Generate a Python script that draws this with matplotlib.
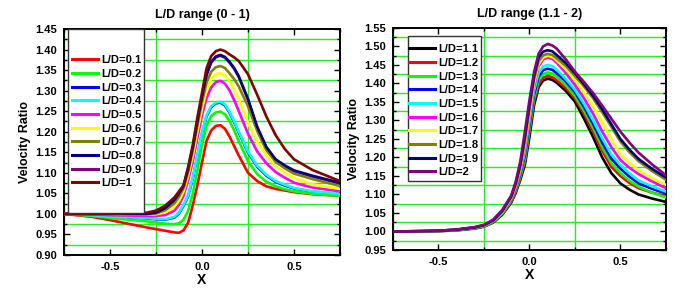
import matplotlib
matplotlib.use("Agg")
import matplotlib.pyplot as plt
from matplotlib.patches import Rectangle
from matplotlib.ticker import MultipleLocator

plt.rcParams['font.family'] = ['Liberation Sans', 'DejaVu Sans']
plt.rcParams['font.weight'] = 'bold'

# ---- left panel: L/D 0.1 .. 1 ----
x_left = [-0.75, -0.6, -0.5, -0.4, -0.3, -0.25, -0.2, -0.15, -0.125, -0.1, -0.075, -0.05, -0.025, 0.0,
          0.025, 0.05, 0.075, 0.1, 0.125, 0.15, 0.175, 0.2, 0.25, 0.3, 0.35, 0.4, 0.45, 0.5, 0.6, 0.75]

ld01 = [1.000, 0.993, 0.985, 0.976, 0.967, 0.963, 0.959, 0.955, 0.954, 0.960, 0.979, 1.021, 1.070, 1.125,
        1.178, 1.203, 1.214, 1.216, 1.207, 1.188, 1.165, 1.142, 1.100, 1.080, 1.067, 1.061, 1.057, 1.053,
        1.048, 1.044]
ld02 = [1.000, 0.995, 0.990, 0.986, 0.982, 0.979, 0.976, 0.975, 0.977, 0.986, 1.008, 1.050, 1.105, 1.170,
        1.215, 1.238, 1.247, 1.249, 1.242, 1.226, 1.203, 1.177, 1.128, 1.097, 1.078, 1.067, 1.060, 1.055,
        1.049, 1.044]
ld03 = [1.000, 0.997, 0.994, 0.991, 0.989, 0.987, 0.986, 0.991, 1.001, 1.020, 1.043, 1.086, 1.141, 1.196,
        1.238, 1.260, 1.269, 1.271, 1.264, 1.246, 1.223, 1.198, 1.150, 1.115, 1.093, 1.078, 1.069, 1.062,
        1.054, 1.048]
ld04 = [1.000, 0.997, 0.994, 0.992, 0.990, 0.988, 0.987, 0.993, 1.003, 1.022, 1.045, 1.088, 1.143, 1.198,
        1.240, 1.262, 1.271, 1.273, 1.266, 1.248, 1.225, 1.200, 1.152, 1.117, 1.095, 1.080, 1.071, 1.063,
        1.055, 1.049]
ld05 = [1.000, 0.999, 0.997, 0.996, 0.995, 0.995, 0.997, 1.008, 1.022, 1.045, 1.082, 1.128, 1.185, 1.240,
        1.282, 1.308, 1.321, 1.324, 1.317, 1.300, 1.277, 1.250, 1.195, 1.152, 1.123, 1.102, 1.088, 1.076,
        1.064, 1.055]
ld06 = [1.000, 1.000, 0.999, 0.998, 0.998, 0.999, 1.004, 1.018, 1.032, 1.055, 1.093, 1.142, 1.200, 1.256,
        1.302, 1.328, 1.340, 1.343, 1.337, 1.322, 1.303, 1.280, 1.222, 1.175, 1.142, 1.116, 1.100, 1.087,
        1.072, 1.061]
ld07 = [1.000, 1.000, 1.000, 0.999, 0.999, 1.001, 1.009, 1.026, 1.042, 1.063, 1.103, 1.155, 1.215, 1.272,
        1.320, 1.346, 1.357, 1.360, 1.355, 1.342, 1.328, 1.310, 1.262, 1.202, 1.155, 1.127, 1.111, 1.098,
        1.085, 1.068]
ld08 = [1.000, 1.000, 1.000, 1.000, 1.000, 1.003, 1.014, 1.034, 1.050, 1.068, 1.110, 1.162, 1.225, 1.285,
        1.340, 1.370, 1.383, 1.387, 1.382, 1.370, 1.355, 1.335, 1.280, 1.212, 1.163, 1.133, 1.118, 1.106,
        1.093, 1.076]
ld09 = [1.000, 1.000, 1.000, 1.000, 1.000, 1.002, 1.013, 1.033, 1.049, 1.067, 1.108, 1.160, 1.223, 1.283,
        1.338, 1.368, 1.381, 1.385, 1.380, 1.368, 1.353, 1.333, 1.278, 1.210, 1.161, 1.131, 1.116, 1.104,
        1.091, 1.074]
ld10 = [1.000, 1.000, 1.000, 1.001, 1.003, 1.008, 1.020, 1.040, 1.055, 1.070, 1.115, 1.168, 1.235, 1.295,
        1.355, 1.384, 1.396, 1.400, 1.396, 1.388, 1.381, 1.372, 1.340, 1.290, 1.237, 1.192, 1.158, 1.133,
        1.107, 1.080]

labels_left = ["L/D=0.1", "L/D=0.2", "L/D=0.3", "L/D=0.4", "L/D=0.5",
               "L/D=0.6", "L/D=0.7", "L/D=0.8", "L/D=0.9", "L/D=1"]
series_left = [ld01, ld02, ld03, ld04, ld05, ld06, ld07, ld08, ld09, ld10]
colors_left = ['#ff0000', '#00ff00', '#0000ff', '#00ffff', '#ff00ff',
               '#ffff00', '#808000', '#000080', '#800080', '#800000']
# curves that are hidden under a neighbour in the original
hidden_left = {2, 8}

# ---- right panel: L/D 1.1 .. 2 ----
x_right = [-0.75, -0.6, -0.5, -0.4, -0.3, -0.25, -0.2, -0.15, -0.1, -0.075, -0.05, -0.025, 0.0, 0.025,
           0.05, 0.075, 0.1, 0.125, 0.15, 0.2, 0.25, 0.3, 0.35, 0.4, 0.45, 0.5, 0.55, 0.6, 0.675, 0.75]

ld11 = [1.000, 1.000, 1.001, 1.003, 1.008, 1.013, 1.024, 1.045, 1.078, 1.105, 1.140, 1.180, 1.255, 1.340,
        1.390, 1.408, 1.413, 1.410, 1.402, 1.380, 1.351, 1.305, 1.255, 1.200, 1.158, 1.130, 1.113, 1.100,
        1.089, 1.080]
ld12 = [1.000, 1.000, 1.001, 1.004, 1.009, 1.014, 1.026, 1.048, 1.080, 1.108, 1.145, 1.188, 1.268, 1.350,
        1.398, 1.416, 1.420, 1.417, 1.409, 1.388, 1.360, 1.318, 1.270, 1.218, 1.175, 1.150, 1.131, 1.117,
        1.105, 1.096]
ld13 = [1.000, 1.000, 1.001, 1.004, 1.009, 1.014, 1.026, 1.048, 1.083, 1.112, 1.150, 1.197, 1.278, 1.360,
        1.408, 1.425, 1.430, 1.427, 1.418, 1.395, 1.366, 1.326, 1.280, 1.228, 1.185, 1.158, 1.137, 1.121,
        1.105, 1.092]
ld14 = [1.000, 1.000, 1.002, 1.004, 1.010, 1.015, 1.028, 1.051, 1.085, 1.116, 1.156, 1.207, 1.288, 1.370,
        1.418, 1.436, 1.440, 1.437, 1.428, 1.405, 1.376, 1.336, 1.290, 1.240, 1.197, 1.170, 1.148, 1.130,
        1.115, 1.103]
ld15 = [1.000, 1.000, 1.002, 1.004, 1.010, 1.015, 1.028, 1.051, 1.087, 1.119, 1.161, 1.216, 1.298, 1.380,
        1.428, 1.446, 1.450, 1.447, 1.437, 1.412, 1.383, 1.345, 1.300, 1.252, 1.208, 1.180, 1.157, 1.138,
        1.122, 1.108]
ld16 = [1.000, 1.001, 1.002, 1.005, 1.011, 1.016, 1.029, 1.053, 1.089, 1.122, 1.166, 1.226, 1.308, 1.392,
        1.446, 1.465, 1.470, 1.467, 1.456, 1.428, 1.396, 1.360, 1.318, 1.270, 1.228, 1.193, 1.172, 1.155,
        1.135, 1.117]
ld17 = [1.000, 1.001, 1.002, 1.005, 1.011, 1.016, 1.029, 1.053, 1.091, 1.125, 1.170, 1.235, 1.318, 1.400,
        1.452, 1.470, 1.475, 1.472, 1.462, 1.438, 1.410, 1.375, 1.338, 1.295, 1.250, 1.208, 1.185, 1.165,
        1.144, 1.126]
ld18 = [1.000, 1.001, 1.002, 1.005, 1.011, 1.017, 1.030, 1.055, 1.093, 1.128, 1.175, 1.245, 1.330, 1.410,
        1.460, 1.476, 1.480, 1.477, 1.468, 1.447, 1.420, 1.392, 1.360, 1.322, 1.283, 1.243, 1.214, 1.190,
        1.163, 1.140]
ld19 = [1.000, 1.001, 1.002, 1.005, 1.011, 1.017, 1.030, 1.055, 1.095, 1.131, 1.182, 1.257, 1.342, 1.420,
        1.470, 1.486, 1.490, 1.487, 1.477, 1.455, 1.428, 1.398, 1.366, 1.330, 1.290, 1.250, 1.221, 1.196,
        1.169, 1.146]
ld20 = [1.000, 1.001, 1.002, 1.005, 1.012, 1.018, 1.032, 1.058, 1.097, 1.135, 1.190, 1.270, 1.355, 1.430,
        1.480, 1.500, 1.507, 1.503, 1.494, 1.465, 1.432, 1.404, 1.374, 1.340, 1.305, 1.270, 1.240, 1.213,
        1.181, 1.152]

labels_right = ["L/D=1.1", "L/D=1.2", "L/D=1.3", "L/D=1.4", "L/D=1.5",
                "L/D=1.6", "L/D=1.7", "L/D=1.8", "L/D=1.9", "L/D=2"]
series_right = [ld11, ld12, ld13, ld14, ld15, ld16, ld17, ld18, ld19, ld20]
colors_right = ['#000000', '#ff0000', '#00ff00', '#0000ff', '#00ffff',
                '#ff00ff', '#ffff00', '#808000', '#000080', '#800080']

fig = plt.figure(figsize=(6.91, 2.91), dpi=100)
ax1 = fig.add_axes([0.0926, 0.1237, 0.3994, 0.7766])
ax2 = fig.add_axes([0.5687, 0.1409, 0.3950, 0.7629])


def style_axes(ax, ylo, yhi, title):
    ax.set_xlim(-0.75, 0.75)
    ax.set_ylim(ylo, yhi)
    ax.xaxis.set_major_locator(MultipleLocator(0.5))
    ax.xaxis.set_minor_locator(MultipleLocator(0.25))
    ax.yaxis.set_major_locator(MultipleLocator(0.05))
    ax.yaxis.set_minor_locator(MultipleLocator(0.025))
    ax.yaxis.set_major_formatter(plt.FormatStrFormatter('%.2f'))
    ax.xaxis.set_major_formatter(plt.FormatStrFormatter('%.1f'))
    ax.grid(False)
    ax.grid(True, which='minor', color='#22ee22', linewidth=1.0)
    ax.set_axisbelow(True)
    ax.tick_params(which='both', direction='in', top=True, right=True,
                   labelsize=8, width=1.0)
    ax.tick_params(axis='x', pad=5)
    ax.tick_params(axis='y', pad=5)
    ax.tick_params(which='major', length=4)
    ax.tick_params(which='minor', length=2.5)
    for s in ax.spines.values():
        s.set_linewidth(1.4)
    for lab in ax.get_xticklabels() + ax.get_yticklabels():
        lab.set_fontweight('bold')
    ax.set_title(title, fontsize=9, fontweight='bold', pad=8)
    ax.set_xlabel("X", fontsize=10, fontweight='bold', labelpad=1)
    ax.set_ylabel("Velocity Ratio", fontsize=9, fontweight='bold', labelpad=3)


style_axes(ax1, 0.90, 1.45, "L/D range (0 - 1)")
style_axes(ax2, 0.95, 1.55, "L/D range (1.1 - 2)")

handles1 = []
for i, (ys, c, lab) in enumerate(zip(series_left, colors_left, labels_left)):
    z = 2 if i in hidden_left else 3
    ln, = ax1.plot(x_left, ys, color=c, lw=1.9, label=lab, zorder=z,
                   solid_joinstyle='round')
    handles1.append(ln)

handles2 = []
for ys, c, lab in zip(series_right, colors_right, labels_right):
    ln, = ax2.plot(x_right, ys, color=c, lw=1.9, label=lab, zorder=3,
                   solid_joinstyle='round')
    handles2.append(ln)

# legend boxes (white panels) drawn as rectangles, legends without frame on top
ax1.add_patch(Rectangle((0.0145, 0.186), 0.2755, 0.814, transform=ax1.transAxes,
                        facecolor='white', edgecolor='#333333', lw=1.0, zorder=5))
ax2.add_patch(Rectangle((0.055, 0.311), 0.267, 0.653, transform=ax2.transAxes,
                        facecolor='white', edgecolor='#333333', lw=1.0, zorder=5))

leg1 = ax1.legend(handles=handles1, loc='upper left', bbox_to_anchor=(0.03, 0.884),
                  frameon=False, fontsize=8, handlelength=2.3, handletextpad=0.3,
                  labelspacing=0.33, borderpad=0.0, borderaxespad=0.0)
leg1.set_zorder(6)
leg2 = ax2.legend(handles=handles2, loc='upper left', bbox_to_anchor=(0.06, 0.927),
                  frameon=False, fontsize=8, handlelength=2.3, handletextpad=0.3,
                  labelspacing=0.33, borderpad=0.0, borderaxespad=0.0)
leg2.set_zorder(6)
for leg in (leg1, leg2):
    for t in leg.get_texts():
        t.set_fontweight('bold')
    for h in leg.legend_handles:
        h.set_linewidth(2.2)

fig.savefig("out.png", dpi=100)
